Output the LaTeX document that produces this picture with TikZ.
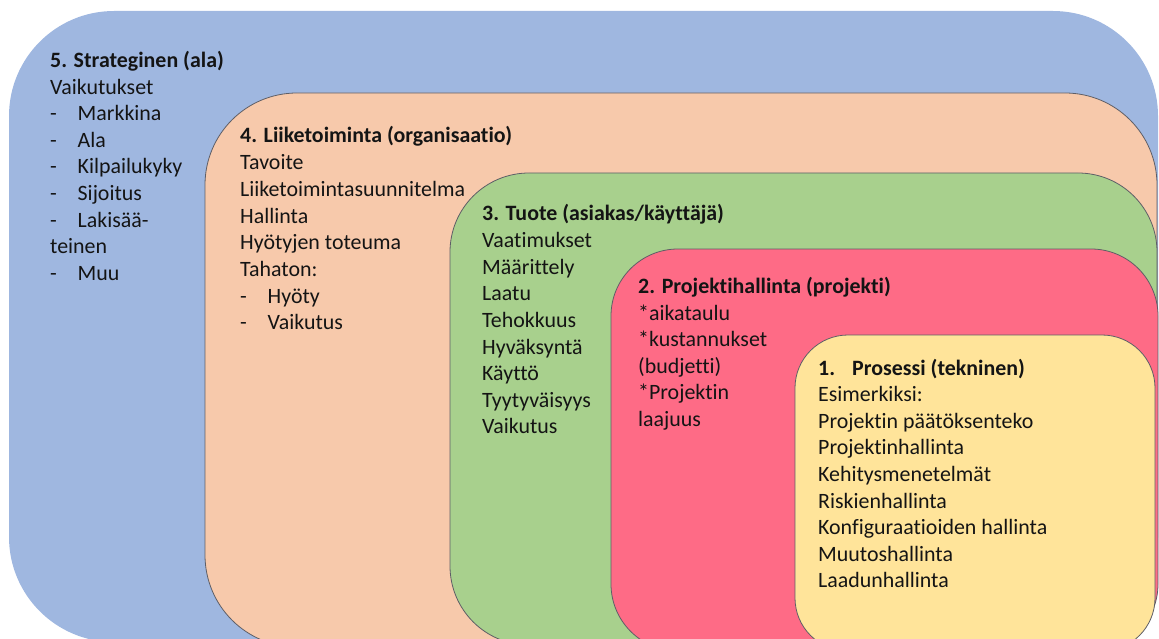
\documentclass[tikz,border=0pt]{standalone}
\usepackage{fontspec}
\setmainfont{Carlito}[Ligatures={NoCommon}]
\definecolor{lvlfive}{HTML}{9FB7E0}
\definecolor{lvlfour}{HTML}{F7C9AB}
\definecolor{lvlthree}{HTML}{A8D08D}
\definecolor{lvltwo}{HTML}{FE6B86}
\definecolor{lvlone}{HTML}{FFE49A}
\definecolor{edge}{HTML}{5E5E66}
\definecolor{ink}{HTML}{141414}
\newcommand{\dashitem}[1]{\makebox[27.5pt][l]{-}#1}
\begin{document}
\begin{tikzpicture}[x=1pt,y=-1pt,
  layer/.style={draw=edge,line width=0.8pt},
  txt/.style={anchor=base west,inner sep=0pt,text=ink,font=\fontsize{21.9}{26}\selectfont},
  head/.style={txt,font=\fontsize{21.9}{26}\selectfont\bfseries}]
\useasboundingbox (0,0) rectangle (1159,639);
\clip (0,0) rectangle (1159,639);

% nested levels, outermost first
\fill[lvlfive,rounded corners=105] (9,11) rectangle (1158,642);
\filldraw[layer,fill=lvlfour,rounded corners=92] (205,93) rectangle (1157,647);
\filldraw[layer,fill=lvlthree,rounded corners=79] (450,173) rectangle (1157,645);
\filldraw[layer,fill=lvltwo,rounded corners=67] (611,249) rectangle (1158,651);
\filldraw[layer,fill=lvlone,rounded corners=53] (795,335) rectangle (1155,651);

% 5. strategic level
\node[head] (s5) at (50,68) {5. Strateginen (ala)};
\foreach \t [count=\i] in {Vaikutukset,{\dashitem{Markkina}},{\dashitem{Ala}},
  {\dashitem{Kilpailukyky}},{\dashitem{Sijoitus}},{\dashitem{Lakisää-}},teinen,{\dashitem{Muu}}}
  \node[txt] (s5-\i) at (50,{68+26.5*\i}) {\t};

% 4. business level
\node[head] (s4) at (240,143) {4. Liiketoiminta (organisaatio)};
\foreach \t [count=\i] in {Tavoite,Liiketoimintasuunnitelma,Hallinta,Hyötyjen toteuma,
  Tahaton:,{\dashitem{Hyöty}},{\dashitem{Vaikutus}}}
  \node[txt] (s4-\i) at (240,{143+26.7*\i}) {\t};

% 3. product level
\node[head] (s3) at (482,221) {3. Tuote (asiakas/käyttäjä)};
\foreach \t [count=\i] in {Vaatimukset,Määrittely,Laatu,Tehokkuus,Hyväksyntä,Käyttö,
  Tyytyväisyys,Vaikutus}
  \node[txt] (s3-\i) at (482,{221+26.6*\i}) {\t};

% 2. project management level
\node[head] (s2) at (638,293.5) {2. Projektihallinta (projekti)};
\foreach \t [count=\i] in {*aikataulu,*kustannukset,(budjetti),*Projektin,laajuus}
  \node[txt] (s2-\i) at (638,{293.5+26.6*\i}) {\t};

% 1. process level
\node[head] (s1) at (818,375) {\makebox[34pt][l]{1.}Prosessi (tekninen)};
\foreach \t [count=\i] in {Esimerkiksi:,Projektin päätöksenteko,Projektinhallinta,
  Kehitysmenetelmät,Riskienhallinta,Konfiguraatioiden hallinta,Muutoshallinta,Laadunhallinta}
  \node[txt] (s1-\i) at (818,{375+26.6*\i}) {\t};
\end{tikzpicture}
\end{document}
